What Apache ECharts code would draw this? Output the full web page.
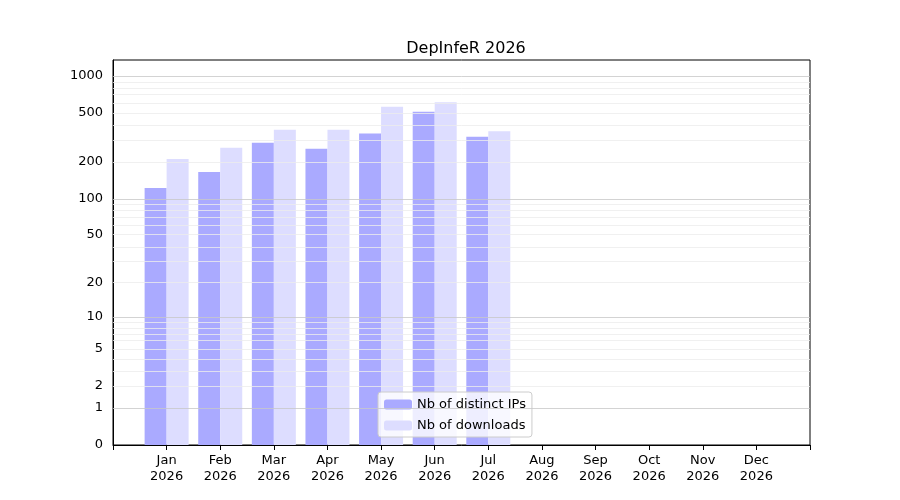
<!DOCTYPE html>
<html>
<head>
<meta charset="UTF-8">
<title>DepInfeR 2026</title>
<script src="https://cdn.jsdelivr.net/npm/echarts@6/dist/echarts.min.js"></script>
<style>body{margin:0;background:#fff}#c{width:900px;height:500px}</style>
</head>
<body>
<div id="c"></div>
<script>
var months = ['Jan', 'Feb', 'Mar', 'Apr', 'May', 'Jun', 'Jul', 'Aug', 'Sep', 'Oct', 'Nov', 'Dec'];
var ips = [122, 165, 285, 255, 340, 510, 320];
var downloads = [210, 260, 365, 365, 560, 610, 355];
var tickLabels = [0, 1, 2, 5, 10, 20, 50, 100, 200, 500, 1000];

// y = log10(v + 1) to mimic the symlog look
function tf(v) { return Math.log10(v + 1); }

var minorVals = [];
[1, 10, 100, 1000].forEach(function (d) {
    for (var k = 1; k < 10; k++) {
        var v = d * k;
        if (tf(v) < 3.13) minorVals.push(v);
    }
});

var grid = minorVals.map(function (v) {
    var major = [1, 10, 100, 1000].indexOf(v) >= 0;
    return { yAxis: tf(v), label: { show: false },
        lineStyle: { color: major ? '#c8c8c8' : '#ececec', width: 0.8, type: 'solid' } };
});
tickLabels.forEach(function (v) {
    grid.push({ yAxis: tf(v), lineStyle: { color: 'rgba(0,0,0,0)', width: 0 },
        label: { show: true, position: 'start', formatter: String(v), color: '#000', fontSize: 13, distance: 10 } });
});

var chart = echarts.init(document.getElementById('c'));
chart.setOption({
    animation: false,
    title: { text: 'DepInfeR 2026', left: 461, top: 36, textAlign: 'center',
        textStyle: { fontWeight: 'normal', fontSize: 16, color: '#000', fontFamily: 'DejaVu Sans' } },
    textStyle: { fontFamily: 'DejaVu Sans' },
    grid: { left: 113, right: 90, top: 60, bottom: 55, show: true, borderColor: '#000', borderWidth: 1 },
    legend: {
        left: 378, top: 392, orient: 'vertical', itemWidth: 28, itemHeight: 10, itemGap: 8,
        borderColor: '#ccc', borderWidth: 1, borderRadius: 3, padding: [6, 6, 5, 6],
        backgroundColor: 'rgba(255,255,255,0.8)',
        textStyle: { fontSize: 13, color: '#000' },
        data: ['Nb of distinct IPs', 'Nb of downloads']
    },
    xAxis: {
        type: 'value', min: -1, max: 12, interval: 1,
        splitLine: { show: false },
        axisLine: { onZero: false, lineStyle: { color: '#000' } },
        axisTick: { show: true, lineStyle: { color: '#000' } },
        axisLabel: { color: '#000', fontSize: 13, lineHeight: 16,
            formatter: function (v) { return months[v] ? months[v] + '\n2026' : ''; } }
    },
    yAxis: {
        type: 'value', min: 0, max: 3.13,
        axisLabel: { show: false }, splitLine: { show: false },
        axisLine: { show: true, onZero: false, lineStyle: { color: '#000' } }, axisTick: { show: false }
    },
    series: [
        { name: 'Nb of distinct IPs', type: 'bar', barWidth: 22, barGap: '0%',
            itemStyle: { color: '#aaaaff' },
            data: ips.map(function (v, i) { return [i, tf(v)]; }),
            markLine: { silent: true, symbol: 'none', data: grid } },
        { name: 'Nb of downloads', type: 'bar', barWidth: 22,
            itemStyle: { color: '#ddddff' },
            data: downloads.map(function (v, i) { return [i, tf(v)]; }) }
    ]
});
</script>
</body>
</html>
